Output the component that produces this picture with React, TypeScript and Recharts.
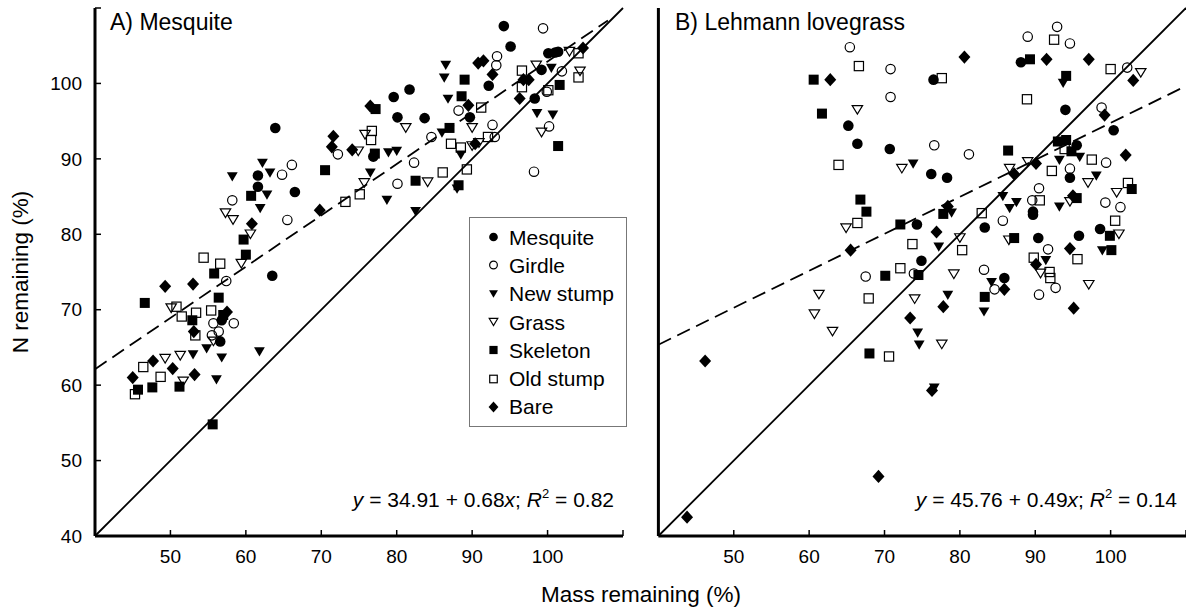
import React from 'react';
import { ScatterChart, Scatter, XAxis, YAxis, ReferenceLine, Legend } from 'recharts';

const FONT = '"Liberation Sans", Arial, Helvetica, sans-serif';

const axisDomain: [number, number] = [40, 110];
const xTicks = [50, 60, 70, 80, 90, 100, 110];
const yTicks = [40, 50, 60, 70, 80, 90, 100, 110];

const seriesNames = ['Mesquite', 'Girdle', 'New stump', 'Grass', 'Skeleton', 'Old stump', 'Bare'];
const seriesKinds = ['circle', 'ocircle', 'tri', 'otri', 'square', 'osquare', 'diamond'];

// ---------- Panel A: Mesquite ----------
const mesquiteA = [[63.9,94.1],[61.6,87.8],[61.6,86.3],[66.5,85.6],[94.2,107.6],[95.1,104.9],[92.2,99.7],[100.1,104.0],[101.0,104.1],[101.4,104.2],[99.2,101.8],[98.3,98.0],[79.6,98.2],[81.7,99.2],[80.1,95.5],[83.7,95.4],[89.7,95.5],[76.9,90.3],[63.5,74.5],[56.6,65.8],[56.8,68.6]];
const girdleA = [[72.2,90.6],[64.8,87.9],[66.1,89.2],[58.2,84.5],[99.4,107.3],[93.3,103.6],[93.2,102.4],[101.9,101.6],[99.9,98.9],[100.2,94.3],[98.2,88.3],[88.2,96.4],[92.7,94.5],[93.0,92.9],[84.6,92.9],[82.3,89.5],[80.1,86.7],[65.5,81.9],[57.4,73.8],[55.7,68.2],[58.4,68.2],[56.4,67.1],[55.5,66.6]];
const newStumpA = [[58.2,87.6],[62.2,89.4],[63.2,88.1],[62.8,85.2],[61.9,83.4],[86.5,102.4],[86.3,100.7],[98.6,96.0],[100.7,95.8],[86.8,97.9],[86.0,93.4],[88.5,90.5],[78.9,90.8],[80.0,91.0],[76.5,88.1],[88.0,86.0],[78.7,84.5],[82.5,83.0],[54.8,64.8],[53.0,64.0],[56.8,63.6],[61.8,64.4],[56.1,60.7],[100.5,102.0]];
const grassA = [[57.3,82.8],[58.3,81.9],[60.6,80.0],[59.4,76.1],[50.1,70.2],[55.7,65.8],[51.3,63.9],[49.3,63.5],[51.7,60.5],[98.5,102.4],[102.9,104.2],[104.3,101.6],[99.2,93.5],[81.2,94.1],[90.0,94.1],[75.8,93.2],[90.0,91.7],[90.9,92.1],[74.9,91.0],[75.7,86.8],[84.1,86.9]];
const skeletonA = [[60.7,85.1],[70.5,88.5],[89.0,100.5],[101.6,99.8],[101.4,91.7],[77.2,96.6],[88.6,98.3],[87.0,94.1],[77.1,90.7],[82.5,87.1],[88.2,86.5],[59.7,79.3],[60.0,77.3],[55.8,74.8],[46.6,70.9],[56.4,71.6],[52.9,68.6],[57.0,69.3],[45.7,59.4],[47.6,59.7],[51.2,59.8],[55.6,54.8]];
const oldStumpA = [[73.2,84.3],[96.6,101.7],[96.6,99.5],[104.1,104.0],[104.1,100.8],[100.1,99.1],[91.2,96.8],[76.7,93.7],[76.6,92.5],[87.2,92.0],[88.5,91.5],[92.1,92.9],[86.1,88.2],[89.3,88.6],[75.1,85.3],[54.4,76.9],[56.6,76.1],[50.8,70.4],[51.5,69.1],[53.4,69.6],[55.4,69.9],[53.3,66.6],[46.4,62.4],[48.7,61.1],[45.3,58.8]];
const bareA = [[71.6,93.0],[71.4,91.6],[74.1,91.2],[69.8,83.2],[90.8,102.7],[91.5,103.0],[92.7,101.2],[104.7,104.7],[96.8,100.5],[97.5,100.5],[96.3,98.0],[76.5,97.0],[89.5,97.1],[90.4,92.0],[60.8,81.4],[49.3,73.1],[53.0,73.4],[57.5,69.7],[53.1,67.1],[47.7,63.2],[50.3,62.2],[45.0,61.0],[53.2,61.4]];

// ---------- Panel B: Lehmann lovegrass ----------
const mesquiteB = [[65.2,94.4],[66.4,92.0],[70.7,91.3],[76.5,100.5],[88.1,102.8],[94.0,96.5],[100.4,93.8],[95.5,91.8],[76.2,88.0],[78.3,87.5],[94.6,87.5],[89.7,83.0],[74.3,81.3],[74.9,76.5],[83.3,80.9],[89.7,82.6],[90.4,79.5],[95.8,79.8],[98.6,80.7],[85.9,74.2]];
const girdleB = [[65.4,104.8],[70.8,101.9],[70.8,98.2],[92.9,107.5],[89.0,106.2],[94.6,105.3],[102.2,102.1],[98.8,96.8],[76.6,91.8],[81.2,90.6],[99.4,89.5],[94.6,88.7],[99.3,84.2],[101.3,83.6],[90.5,86.1],[89.6,84.5],[67.5,74.4],[73.9,74.8],[85.7,81.8],[91.7,78.0],[83.2,75.3],[84.6,72.7],[92.7,72.9],[90.5,72.0]];
const newStumpB = [[73.8,89.3],[93.7,100.0],[93.2,89.8],[95.9,90.2],[98.1,87.7],[85.7,85.0],[86.6,83.4],[87.5,84.2],[93.2,83.6],[78.9,82.8],[77.2,78.3],[91.4,76.5],[98.9,77.8],[84.2,73.6],[83.2,69.7],[78.4,71.9],[74.4,66.9],[74.6,65.3],[76.6,59.6]];
const grassB = [[66.4,96.5],[72.3,88.7],[104.0,101.4],[86.6,88.7],[89.0,89.6],[97.0,86.8],[100.8,85.5],[94.6,84.3],[64.9,80.8],[61.3,72.0],[60.7,69.4],[63.1,67.1],[74.0,71.4],[86.5,79.2],[80.0,79.5],[101.1,80.0],[79.2,74.7],[90.7,74.8],[97.1,73.3],[77.6,65.4]];
const skeletonB = [[60.6,100.5],[61.7,96.0],[66.8,84.6],[67.6,83.0],[72.1,81.3],[70.1,74.5],[74.5,74.6],[68.0,64.2],[89.3,103.2],[94.1,101.0],[86.4,91.1],[93.0,92.3],[94.1,92.5],[94.8,91.0],[102.8,86.0],[95.5,84.8],[77.8,82.7],[87.2,79.5],[99.9,79.8],[100.1,77.9],[83.3,71.7]];
const oldStumpB = [[66.6,102.3],[63.9,89.2],[66.4,81.5],[73.7,78.7],[72.1,75.5],[67.9,71.5],[70.6,63.8],[92.5,105.8],[100.0,101.9],[77.6,100.7],[88.9,97.9],[93.9,91.3],[97.5,89.9],[92.2,88.4],[102.3,86.8],[90.6,84.5],[82.9,82.8],[80.3,77.9],[95.6,76.7],[100.6,81.8],[89.8,76.9],[91.9,75.0],[92.0,74.2]];
const bareB = [[62.8,100.5],[65.5,77.9],[73.4,68.9],[46.2,63.2],[43.8,42.5],[69.2,47.9],[76.3,59.3],[95.1,70.2],[77.8,70.4],[80.6,103.5],[91.5,103.2],[97.1,103.2],[103.0,100.4],[99.2,95.8],[102.0,90.5],[87.2,88.0],[90.1,89.4],[95.0,85.1],[78.4,83.7],[76.9,80.3],[94.6,78.1],[90.1,76.0],[85.9,72.7]];

const fitA = { intercept: 34.91, slope: 0.68, r2: '0.82', xFrom: 40, xTo: 108 };
const fitB = { intercept: 45.76, slope: 0.49, r2: '0.14', xFrom: 40, xTo: 110 };

const toPts = (arr: number[][]) => arr.map(([x, y]) => ({ x, y }));

const panelASeries = [mesquiteA, girdleA, newStumpA, grassA, skeletonA, oldStumpA, bareA];
const panelBSeries = [mesquiteB, girdleB, newStumpB, grassB, skeletonB, oldStumpB, bareB];

function Marker({ kind, cx, cy, s = 1 }: { kind: string; cx: number; cy: number; s?: number }) {
  if (cx == null || cy == null || isNaN(cx) || isNaN(cy)) return null;
  const sw = 1.2;
  switch (kind) {
    case 'circle':
      return <circle cx={cx} cy={cy} r={5.3 * s} fill="#000" />;
    case 'ocircle':
      return <circle cx={cx} cy={cy} r={4.7 * s} fill="none" stroke="#000" strokeWidth={sw} />;
    case 'tri': {
      const w = 5.4 * s, h = 4.6 * s;
      return <polygon points={`${cx - w},${cy - h} ${cx + w},${cy - h} ${cx},${cy + h}`} fill="#000" />;
    }
    case 'otri': {
      const w = 5.2 * s, h = 4.3 * s;
      return <polygon points={`${cx - w},${cy - h} ${cx + w},${cy - h} ${cx},${cy + h}`} fill="none" stroke="#000" strokeWidth={sw} strokeLinejoin="miter" />;
    }
    case 'square': {
      const a = 5 * s;
      return <rect x={cx - a} y={cy - a} width={2 * a} height={2 * a} fill="#000" />;
    }
    case 'osquare': {
      const a = 4.6 * s;
      return <rect x={cx - a} y={cy - a} width={2 * a} height={2 * a} fill="none" stroke="#000" strokeWidth={sw} />;
    }
    case 'diamond': {
      const w = 6 * s, h = 6.6 * s;
      return <polygon points={`${cx},${cy - h} ${cx + w},${cy} ${cx},${cy + h} ${cx - w},${cy}`} fill="#000" />;
    }
    default:
      return null;
  }
}

const makeShape = (kind: string) => (props: any) => <Marker kind={kind} cx={props.cx} cy={props.cy} />;

const LegendBox = (props: any) => {
  const payload = [...((props && props.payload) || [])].sort(
    (a: any, b: any) => seriesNames.indexOf(a.value) - seriesNames.indexOf(b.value)
  );
  return (
    <div style={{ paddingTop: 5, fontFamily: FONT, fontSize: 21, color: '#000' }}>
      {payload.map((p: any, i: number) => {
        const idx = seriesNames.indexOf(p.value);
        const kind = seriesKinds[idx >= 0 ? idx : i];
        return (
          <div key={i} style={{ height: 28.3, display: 'flex', alignItems: 'center', whiteSpace: 'nowrap' }}>
            <svg width={39} height={20} style={{ flex: 'none' }}>
              <Marker kind={kind} cx={23.5} cy={10} s={0.82} />
            </svg>
            <span style={{ lineHeight: '21px' }}>{p.value}</span>
          </div>
        );
      })}
    </div>
  );
};

const axisLineStyle = { stroke: '#000', strokeWidth: 3 };
const tickLineStyle = { stroke: '#000', strokeWidth: 1.5 };
const tickFont = { fontSize: 19, fill: '#000', fontFamily: FONT };

function Panel({ series, fit, showYLabels, showLegend, width, marginLeft, marginRight }: any) {
  const f = (x: number) => fit.intercept + fit.slope * x;
  return (
    <ScatterChart width={width} height={613} margin={{ top: 8, right: marginRight, bottom: 76, left: marginLeft }}>
      <XAxis
        type="number"
        dataKey="x"
        domain={axisDomain}
        allowDataOverflow
        ticks={xTicks}
        height={1}
        tickSize={-6}
        tickMargin={20}
        axisLine={axisLineStyle}
        tickLine={tickLineStyle}
        tick={tickFont}
        tickFormatter={(v: number) => (v === 110 ? '' : String(v))}
      />
      <YAxis
        type="number"
        dataKey="y"
        domain={axisDomain}
        allowDataOverflow
        ticks={yTicks}
        width={1}
        tickSize={-6}
        tickMargin={19}
        axisLine={axisLineStyle}
        tickLine={tickLineStyle}
        tick={showYLabels ? tickFont : false}
        tickFormatter={(v: number) => (v === 110 ? '' : String(v))}
      />
      <ReferenceLine
        segment={[{ x: 40, y: 40 }, { x: 110, y: 110 }]}
        stroke="#000"
        strokeWidth={1.8}
        ifOverflow="visible"
      />
      <ReferenceLine
        segment={[{ x: fit.xFrom, y: f(fit.xFrom) }, { x: fit.xTo, y: f(fit.xTo) }]}
        stroke="#000"
        strokeWidth={1.8}
        strokeDasharray="14 7"
        ifOverflow="visible"
      />
      {series.map((arr: number[][], i: number) => (
        <Scatter
          key={seriesNames[i]}
          name={seriesNames[i]}
          data={toPts(arr)}
          shape={makeShape(seriesKinds[i])}
          isAnimationActive={false}
        />
      ))}
      {showLegend && (
        <Legend
          layout="vertical"
          align="center"
          verticalAlign="middle"
          content={<LegendBox />}
          wrapperStyle={{
            left: 469,
            top: 217,
            width: 158,
            height: 210,
            border: '1px solid #777',
            boxSizing: 'border-box',
            background: '#fff',
          }}
        />
      )}
    </ScatterChart>
  );
}

export default function App() {
  return (
    <div style={{ position: 'absolute', left: 0, top: 0, width: 1186, height: 613, background: '#fff', fontFamily: FONT, overflow: 'hidden' }}>
      <div style={{ position: 'absolute', left: 0, top: 0 }}>
        <Panel series={panelASeries} fit={fitA} showYLabels showLegend width={640} marginLeft={94} marginRight={17} />
      </div>
      <div style={{ position: 'absolute', left: 640, top: 0 }}>
        <Panel series={panelBSeries} fit={fitB} showYLabels={false} showLegend={false} width={546} marginLeft={17.4} marginRight={0} />
      </div>
      <svg width={1186} height={613} style={{ position: 'absolute', left: 0, top: 0, pointerEvents: 'none' }} fontFamily={FONT}>
        <text x={110} y={30} fontSize={23} fill="#000">A) Mesquite</text>
        <text x={675} y={30} fontSize={23} fill="#000">B) Lehmann lovegrass</text>
        <text x={614} y={507} fontSize={21} fill="#000" textAnchor="end">
          <tspan fontStyle="italic">y</tspan> = {fitA.intercept.toFixed(2)} + {fitA.slope.toFixed(2)}<tspan fontStyle="italic">x</tspan>; <tspan fontStyle="italic">R</tspan>
          <tspan fontSize={13} dy={-9}>2</tspan>
          <tspan dy={9}> = {fitA.r2}</tspan>
        </text>
        <text x={1177} y={507} fontSize={21} fill="#000" textAnchor="end">
          <tspan fontStyle="italic">y</tspan> = {fitB.intercept.toFixed(2)} + {fitB.slope.toFixed(2)}<tspan fontStyle="italic">x</tspan>; <tspan fontStyle="italic">R</tspan>
          <tspan fontSize={13} dy={-9}>2</tspan>
          <tspan dy={9}> = {fitB.r2}</tspan>
        </text>
        <text x={641} y={602} fontSize={22.5} fill="#000" textAnchor="middle">Mass remaining (%)</text>
        <text x={28} y={272} fontSize={22.5} fill="#000" textAnchor="middle" transform="rotate(-90 28 272)">N remaining (%)</text>
      </svg>
    </div>
  );
}
